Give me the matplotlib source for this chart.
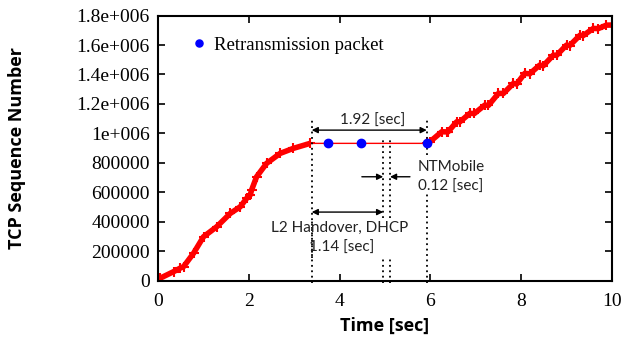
#TCP sequence during handover

import numpy as np
import matplotlib.pyplot as plt
from matplotlib.ticker import FixedLocator, FixedFormatter

#_________INPUT data_______
# sending phase before the handover
t_before = [0.0, 0.04, 0.34, 0.48, 0.56, 0.78, 1.0, 1.29, 1.59, 1.81, 1.95, 2.03,
            2.06, 2.17, 2.39, 2.69, 2.98, 3.35]
seq_before = [0, 15000, 60000, 83000, 94000, 185000, 297500, 365000, 456000, 501000,
              558000, 581000, 615000, 705000, 796000, 864000, 898000, 932000]
# sending phase after the handover (bursty)
t_after = [5.92, 5.99, 6.25, 6.36, 6.39, 6.58, 6.65, 6.87, 6.97, 7.20, 7.28, 7.50,
           7.61, 7.83, 7.90, 8.08, 8.19, 8.41, 8.49, 8.71, 8.78, 9.00, 9.07, 9.30,
           9.37, 9.59, 9.70, 9.88, 10.0]
seq_after = [932000, 942800, 1010700, 1010000, 1010700, 1078600, 1078600, 1135700,
             1135000, 1192100, 1190000, 1271500, 1271500, 1339500, 1335000, 1407400,
             1405000, 1463800, 1460000, 1531700, 1530000, 1599600, 1597000, 1667500,
             1665000, 1713000, 1712000, 1735500, 1736000]
# retransmitted packets
t_retx = [3.75, 4.47, 5.92]
seq_retx = [932000, 932000, 932000]
# event times: handover start, L2/DHCP done, NTMobile done, first new packet
event_t = [3.385, 4.96, 5.11, 5.92]

yticks = [0, 200000, 400000, 600000, 800000, 1000000, 1200000, 1400000, 1600000, 1800000]
ytick_labels = ["0", "200000", "400000", "600000", "800000", "1e+006", "1.2e+006",
                "1.4e+006", "1.6e+006", "1.8e+006"]
xticks = [0, 2, 4, 6, 8, 10]

#_________Figure Style_______________________
plt.rcParams["font.family"] = "serif"
plt.rcParams["font.serif"] = ["Liberation Serif", "DejaVu Serif"]
plt.rcParams["font.size"] = 14
plt.rcParams["axes.linewidth"] = 1.5
plt.rcParams["xtick.direction"] = "in"
plt.rcParams["ytick.direction"] = "in"
plt.rcParams["xtick.major.size"] = 5
plt.rcParams["ytick.major.size"] = 5
plt.rcParams["xtick.major.width"] = 1.2
plt.rcParams["ytick.major.width"] = 1.2

ann = dict(family="Lato", fontsize=11, color="#222222")
lab = dict(family="Open Sans", fontsize=13, fontweight="bold")

fig, ax = plt.subplots(figsize=(6.25, 3.4), dpi=100)
fig.subplots_adjust(left=0.253, right=0.979, bottom=0.175, top=0.954)

#____________Plot_______________________
t_all = t_before + t_after
seq_all = seq_before + seq_after
ax.plot(t_all, seq_all, color="red", lw=1, zorder=2)
ax.plot(t_before, seq_before, color="red", lw=4, solid_capstyle="butt", zorder=2)
ax.plot(t_after, seq_after, color="red", lw=4, solid_capstyle="butt", zorder=2)
ax.plot(t_all, seq_all, "+", color="red", ms=7, mew=1.5, zorder=2)
ax.plot(t_retx, seq_retx, "o", color="#0000ff", ms=6, ls="none", zorder=4,
        label="Retransmission packet")

#dotted event lines (with gaps for the labels)
dot = dict(color="black", ls=(0, (1, 2)), lw=1.3, zorder=3, clip_on=False)
ax.plot([event_t[0]] * 2, [-20000, 424500], **dot)
ax.plot([event_t[0]] * 2, [153000, 1090000], **dot)
for t in event_t[1:3]:
    ax.plot([t, t], [-20000, 153000], **dot)
    ax.plot([t, t], [424500, 961000], **dot)
ax.plot([event_t[3]] * 2, [-20000, 587500], **dot)
ax.plot([event_t[3]] * 2, [852000, 1104000], **dot)

#arrows
arr = dict(arrowstyle="<|-|>", color="black", lw=1, mutation_scale=9, shrinkA=0, shrinkB=0)
ax.annotate("", xy=(event_t[0], 1022000), xytext=(event_t[3], 1022000), arrowprops=arr)
ax.annotate("", xy=(event_t[0], 465000), xytext=(event_t[1], 465000), arrowprops=arr)
one = dict(arrowstyle="-|>", color="black", lw=1, mutation_scale=9, shrinkA=0, shrinkB=0)
ax.annotate("", xy=(event_t[1], 705000), xytext=(4.49, 705000), arrowprops=one)
ax.annotate("", xy=(event_t[2], 705000), xytext=(5.55, 705000), arrowprops=one)

ax.text(4.72, 1083000, "1.92 [sec]", ha="center", va="center", **ann)
ax.text(5.73, 771000, "NTMobile", ha="left", va="center", **ann)
ax.text(5.73, 635000, "0.12 [sec]", ha="left", va="center", **ann)
ax.text(4.01, 356600, "L2 Handover, DHCP", ha="center", va="center", **ann)
ax.text(4.05, 220800, "1.14 [sec]", ha="center", va="center", **ann)

ax.set_xlim(0, 10)
ax.set_ylim(0, 1800000)
ax.xaxis.set_major_locator(FixedLocator(xticks))
ax.yaxis.set_major_locator(FixedLocator(yticks))
ax.yaxis.set_major_formatter(FixedFormatter(ytick_labels))
ax.tick_params(top=True, right=True, pad=6)
ax.tick_params(axis="x", pad=9)
ax.set_xlabel("Time [sec]", labelpad=5, **lab)
ax.set_ylabel("TCP Sequence Number", labelpad=36, **lab)
ax.legend(loc="upper left", frameon=False, fontsize=13.5, handletextpad=0.2,
          markerscale=0.85, bbox_to_anchor=(0.048, 0.95), borderaxespad=0,
          handlelength=1.2)

fig.savefig("out.png")
